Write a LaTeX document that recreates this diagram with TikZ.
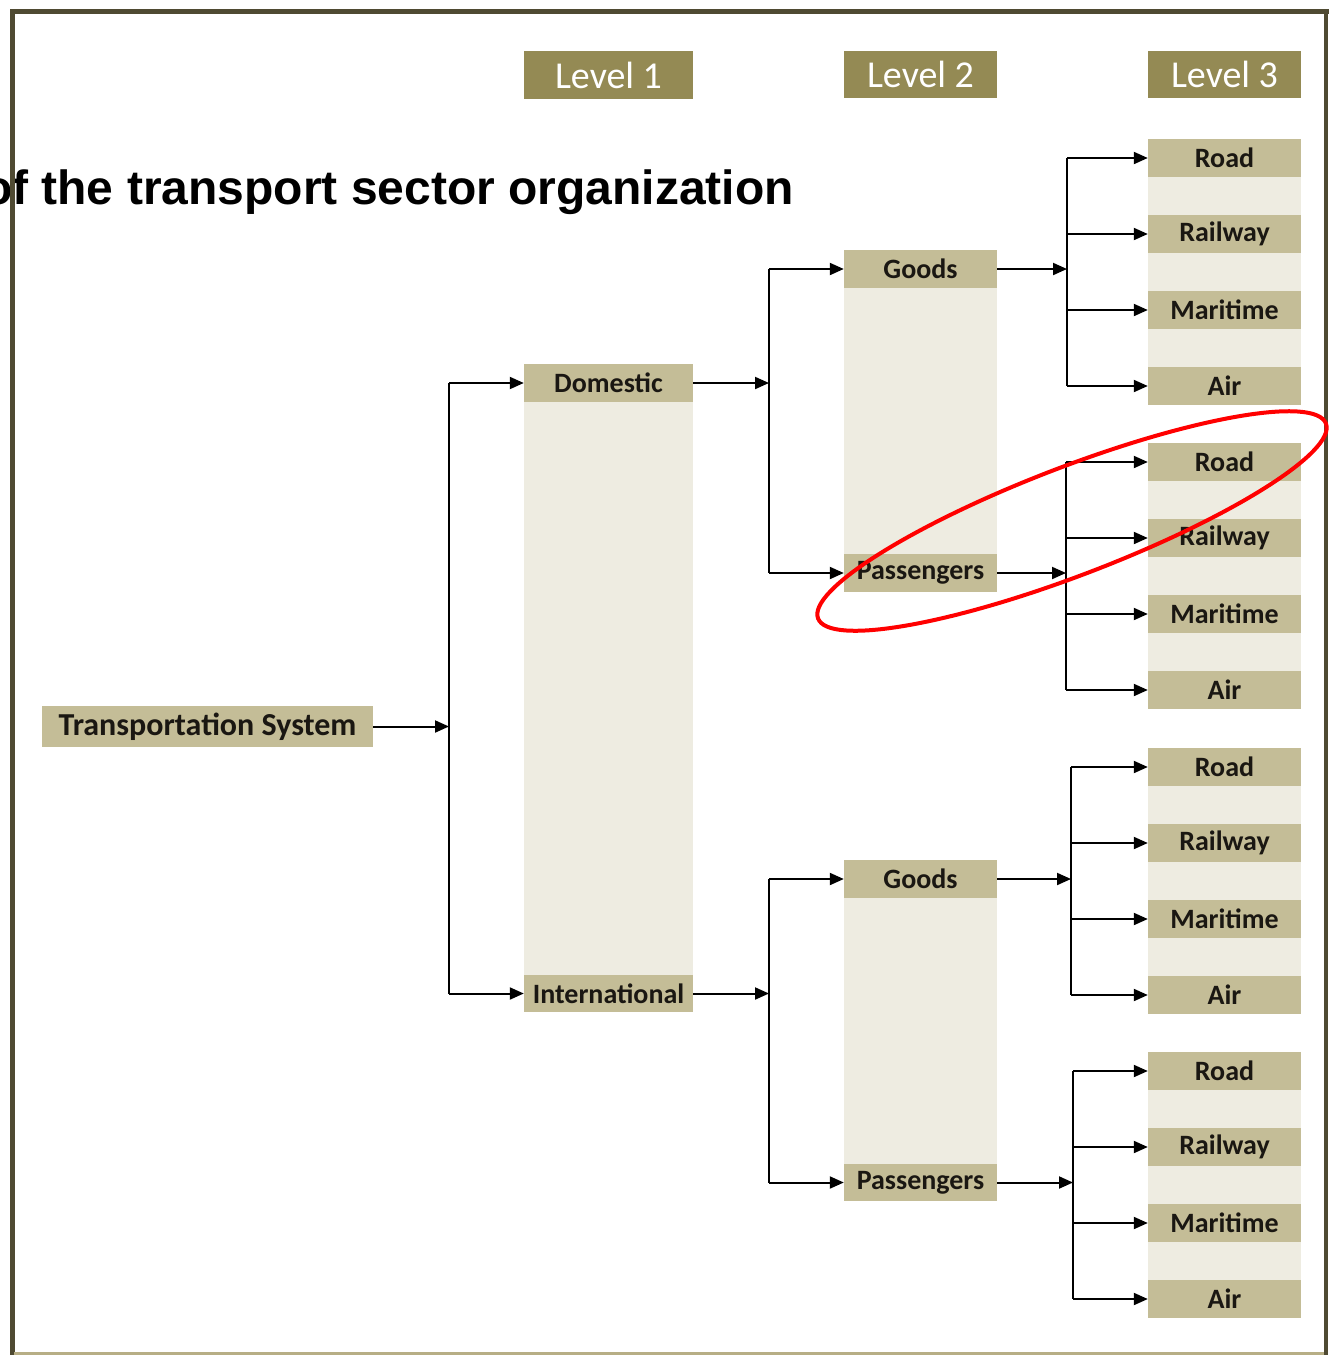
\documentclass[tikz,border=0pt]{standalone}
\usepackage{fontspec}
\setmainfont{Carlito}
\newfontfamily\titlefont{Liberation Sans}
\usetikzlibrary{arrows.meta,backgrounds}
\definecolor{olivedk}{HTML}{948A54}
\definecolor{tanc}{HTML}{C4BD97}
\definecolor{palec}{HTML}{EEECE1}
\definecolor{framec}{HTML}{4F4A32}
\definecolor{framelt}{HTML}{B7AE85}
\definecolor{txtc}{HTML}{1A1712}
\begin{document}
\begin{tikzpicture}[x=1pt,y=-1pt,
  lvl/.style={fill=olivedk, text=white, font=\fontsize{38}{42}\selectfont, inner sep=0pt, minimum height=47pt, minimum width=153pt},
  hd/.style={fill=tanc, text=txtc, font=\bfseries\fontsize{28}{30}\selectfont, inner sep=0pt, minimum height=38pt, minimum width=153pt},
  ln/.style={draw=black, line width=2pt},
  arr/.style={ln, -{Triangle[length=14pt,width=12pt]}}]
\useasboundingbox (0,0) rectangle (1333,1355);

% title (clipped at the left edge)
\begin{scope}
  \clip (0,0) rectangle (1333,1355);
  \node[anchor=base east, inner sep=0pt, text=black, font=\titlefont\bfseries\fontsize{48}{50}\selectfont] (title) at (794,204) {of the transport sector organization};
\end{scope}

% level headers
\node[lvl, minimum width=169pt, minimum height=48pt] (lvA) at (608.5,75) {Level 1};
\node[lvl] (lvB) at (920.5,74) {Level 2};
\node[lvl] (lvC) at (1224.5,74) {Level 3};

% level 0
\node[hd, minimum width=331pt, minimum height=41pt, font=\bfseries\fontsize{32}{34}\selectfont] (ts) at (207.5,726.5) {Transportation System};

% level 1
\node[hd, minimum width=169pt] (dom) at (608.5,383) {Domestic};
\node[hd, minimum width=169pt, minimum height=37pt] (intl) at (608.5,993.5) {International};

% level 2
\node[hd] (goodsU) at (920.5,269) {Goods};
\node[hd] (passU) at (920.5,573) {Passengers};
\node[hd] (goodsL) at (920.5,879) {Goods};
\node[hd, minimum height=37pt] (passL) at (920.5,1182.5) {Passengers};

% level 3
\foreach \g/\y in {A/158, B/462, C/767, D/1071} {
  \node[hd] (\g1) at (1224.5,\y) {Road};
  \node[hd] (\g2) at (1224.5,\y+76) {Railway};
  \node[hd] (\g3) at (1224.5,\y+152) {Maritime};
  \node[hd] (\g4) at (1224.5,\y+228) {Air};
}

% white page and pale column bodies
\begin{scope}[on background layer]
  \fill[white] (0,0) rectangle (1333,1355);
  \fill[palec] (dom.south west) rectangle (intl.north east);
  \fill[palec] (goodsU.south west) rectangle (passU.north east);
  \fill[palec] (goodsL.south west) rectangle (passL.north east);
  \foreach \g in {A,B,C,D} {
    \fill[palec] (\g1.south west) rectangle (\g4.north east);
  }
\end{scope}

% connectors level 0 -> 1
\coordinate (j0) at (449,0);
\draw[arr] (ts.east) -- (ts.east -| j0);
\draw[ln] (j0 |- dom) -- (j0 |- intl);
\draw[arr] (j0 |- dom) -- (dom.west);
\draw[arr] (j0 |- intl) -- (intl.west);

% connectors level 1 -> 2
\coordinate (j1) at (769,0);
\draw[arr] (dom.east) -- (dom.east -| j1);
\draw[ln] (j1 |- goodsU) -- (j1 |- passU);
\draw[arr] (j1 |- goodsU) -- (goodsU.west);
\draw[arr] (j1 |- passU) -- (passU.west);

\draw[arr] (intl.east) -- (intl.east -| j1);
\draw[ln] (j1 |- goodsL) -- (j1 |- passL);
\draw[arr] (j1 |- goodsL) -- (goodsL.west);
\draw[arr] (j1 |- passL) -- (passL.west);

% connectors level 2 -> 3
\foreach \g/\src/\bx in {A/goodsU/1067, B/passU/1066, C/goodsL/1071, D/passL/1073} {
  \coordinate (j\g) at (\bx,0);
  \draw[arr] (\src.east) -- (\src.east -| j\g);
  \draw[ln] (j\g |- \g1) -- (j\g |- \g4);
  \foreach \k in {1,2,3,4} {
    \draw[arr] (j\g |- \g\k) -- (\g\k.west);
  }
}

% frame
\draw[framec, line width=4.5pt] (12.5,9) -- (12.5,1355);
\draw[framec, line width=4.5pt] (10,11.5) -- (1328.5,11.5);
\draw[framec, line width=4.5pt] (1326,9) -- (1326,1355);
\draw[framelt, line width=3pt] (14,1353.5) -- (1324,1353.5);

% red ellipse
\draw[red, line width=4pt, rotate around={21:(1072,521)}] (1072,521) ellipse [x radius=272, y radius=54];
\end{tikzpicture}
\end{document}
